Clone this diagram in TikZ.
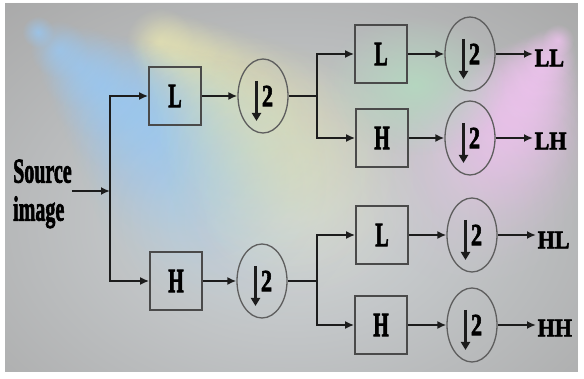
\documentclass[tikz,border=0pt]{standalone}
\usepackage{fontspec}
\setmainfont{Liberation Serif}[BoldFeatures={FakeBold=2.4}]
\usepackage{graphicx}
\usetikzlibrary{shapes.geometric,arrows.meta,fadings,calc}

\tikzfading[name=glow, inner color=transparent!0, outer color=transparent!100]

\definecolor{bg}{HTML}{A9A9A9}
\definecolor{haze}{HTML}{D2D7DA}
\definecolor{beamblue}{HTML}{96CAFA}
\definecolor{beamyellow}{HTML}{E6E4B2}
\definecolor{beamgreen}{HTML}{B4DCC0}
\definecolor{beampink}{HTML}{F2C4F2}
\definecolor{wirec}{HTML}{1C1C1C}
\definecolor{boxline}{HTML}{4A4A4A}
\definecolor{circline}{HTML}{5E5E5E}

% vertically stretched text
\newcommand\vstretch[2][1.7]{\scalebox{1}[#1]{#2}}

\begin{document}
\begin{tikzpicture}[x=1pt,y=-1pt,
  filt/.style={draw=boxline, line width=1.7pt, minimum width=52pt,
    minimum height=58pt, inner sep=0pt,
    font=\fontsize{20}{22}\selectfont\bfseries},
  down/.style={ellipse, draw=circline, line width=1.3pt, minimum width=50pt,
    minimum height=74pt, inner sep=0pt,
    font=\fontsize{22}{24}\selectfont\bfseries,
    path picture={\draw[wirec, line width=2.8pt, -{Triangle[length=8pt,width=9pt]}]
      ([shift={(-6.5,-15)}]path picture bounding box.center) -- ++(0,40);}},
  outlbl/.style={anchor=west, inner sep=1.5pt,
    font=\fontsize{22}{24}\selectfont\bfseries},
  wire/.style={draw=wirec, line width=2.5pt},
  arr/.style={wire, -{Latex[length=9pt,width=8pt]}}]

\useasboundingbox (0,0) rectangle (584,379);

% backdrop with coloured spot lights
\begin{scope}
  \clip (5,3) rectangle (578,372);
  \fill[bg] (5,3) rectangle (578,372);
  \fill[haze, path fading=glow] (290,220) ellipse (430 and 300);
  \foreach \t in {0,0.1,...,1.0} {
    \pgfmathsetmacro\op{0.6*(1-\t)+0.12}
    \fill[beamblue, opacity=\op, path fading=glow]
      ($(38,32)!\t!(250,210)$) circle ({16+\t*130});
    \fill[beamyellow, opacity=\op, path fading=glow]
      ($(160,42)!\t!(320,200)$) circle ({34+\t*110});
    \fill[beampink, opacity=\op, path fading=glow]
      ($(558,40)!\t!(470,190)$) circle ({16+\t*110});
  }
  \fill[beamgreen, opacity=0.8, path fading=glow] (415,85) ellipse (90 and 70);
\end{scope}

% input
\node[anchor=west, inner sep=0pt] (src) at (13,194)
  {\vstretch[1.75]{\fontsize{20}{21.7}\selectfont\bfseries
   \begin{tabular}{@{}l@{}}Source\\image\end{tabular}}};
\coordinate (j0) at (110,191);

% first stage
\node[filt] (L1) at (175,96) {\vstretch{L}};
\node[filt] (H1) at (176,281) {\vstretch{H}};
\node[down] (D1) at (263,96) {\hspace*{9pt}\vstretch[1.4]{2}};
\node[down] (D4) at (262,281) {\hspace*{9pt}\vstretch[1.4]{2}};
\coordinate (s1) at (317,96);
\coordinate (s2) at (317,281);

% second stage
\node[filt] (L2) at (381,54) {\vstretch{L}};
\node[filt] (H2) at (382,138) {\vstretch{H}};
\node[filt] (L3) at (382,235) {\vstretch{L}};
\node[filt] (H3) at (381,325) {\vstretch{H}};
\node[down] (D2) at (470,54) {\hspace*{9pt}\vstretch[1.4]{2}};
\node[down] (D3) at (470,138) {\hspace*{9pt}\vstretch[1.4]{2}};
\node[down] (D5) at (472,235) {\hspace*{9pt}\vstretch[1.4]{2}};
\node[down] (D6) at (472,325) {\hspace*{9pt}\vstretch[1.4]{2}};

% outputs
\node[outlbl] (LL) at (533,58) {\vstretch[1.15]{LL}};
\node[outlbl] (LH) at (533,141) {\vstretch[1.15]{LH}};
\node[outlbl] (HL) at (536,240) {\vstretch[1.15]{HL}};
\node[outlbl] (HH) at (536,328) {\vstretch[1.15]{HH}};

% connectors
\draw[arr] (src.east |- j0) -- (j0);
\draw[arr] (j0) |- (L1.west);
\draw[arr] (j0) |- (H1.west);
\draw[arr] (L1) -- (D1);
\draw[arr] (H1) -- (D4);
\draw[wire] (D1.east) -- (s1);
\draw[wire] (D4.east) -- (s2);
\draw[arr] (s1) |- (L2.west);
\draw[arr] (s1) |- (H2.west);
\draw[arr] (s2) |- (L3.west);
\draw[arr] (s2) |- (H3.west);
\draw[arr] (L2) -- (D2);
\draw[arr] (H2) -- (D3);
\draw[arr] (L3) -- (D5);
\draw[arr] (H3) -- (D6);
\draw[arr] (D2.east) -- (D2 -| LL.west);
\draw[arr] (D3.east) -- (D3 -| LH.west);
\draw[arr] (D5.east) -- (D5 -| HL.west);
\draw[arr] (D6.east) -- (D6 -| HH.west);
\end{tikzpicture}
\end{document}
